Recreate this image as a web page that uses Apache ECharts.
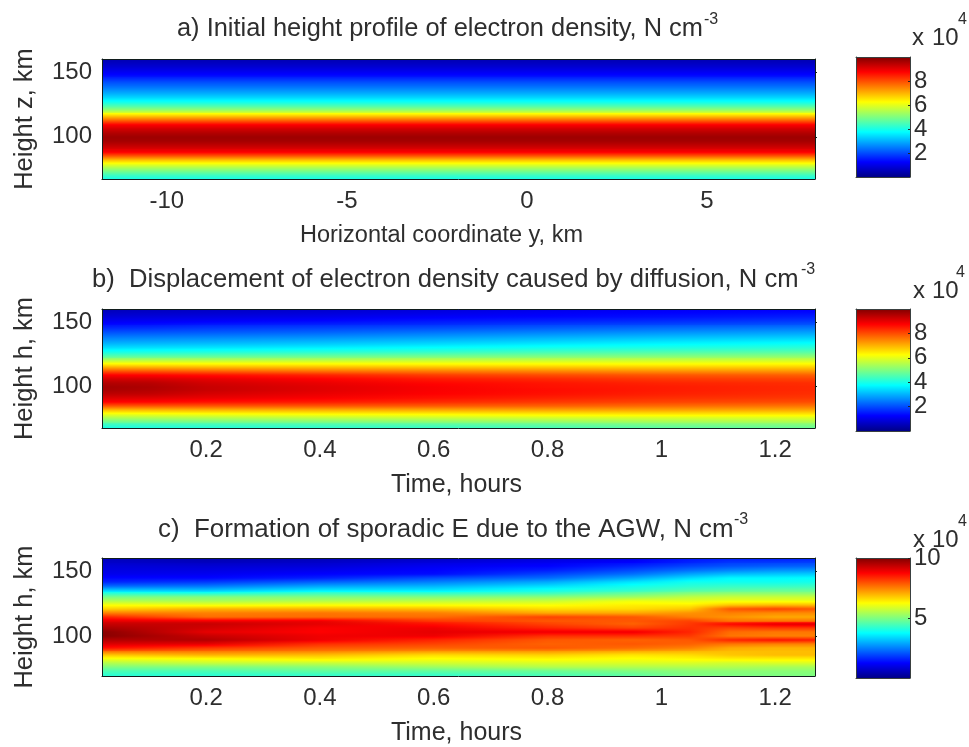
<!DOCTYPE html>
<html><head><meta charset="utf-8">
<script src="https://cdn.jsdelivr.net/npm/echarts@6/dist/echarts.min.js"></script>
<style>html,body{margin:0;padding:0;background:#fff}#c{width:969px;height:747px}</style>
</head><body><div id="c"></div>
<script>
// Heights of the data rows, km
const heights = [160,157,154,151,148,145,142,139,136,133,130,127,124,121,118,115,112,109,106,103,100,97,94,91,88,85,82,79,76,73,70,67];
// Panel a: initial profile, x 10^4 per cm^3
const profileA = [.45,.6,.8,1.05,1.3,1.6,2.0,2.3,2.65,3.0,3.4,3.9,4.5,5.2,6.1,7.0,7.9,8.8,9.2,9.5,9.7,9.65,9.4,9.1,8.8,7.9,6.9,6.1,5.4,4.8,4.25,3.9];
const coordA = [-11.8, 8.0];
// Panel b: profiles at successive times
const timesB = [0.017,0.1,0.2,0.4,0.6,0.8,1.0,1.27];
const b017 = [.5,.65,.85,1.1,1.35,1.65,2.0,2.35,2.7,3.05,3.45,3.95,4.55,5.25,6.1,7.0,7.9,8.75,9.2,9.5,9.65,9.6,9.4,9.1,8.75,7.9,6.9,6.1,5.4,4.8,4.25,3.9];
const b010 = [.55,.7,.9,1.15,1.4,1.7,2.05,2.4,2.75,3.1,3.5,4.0,4.6,5.3,6.1,6.95,7.85,8.7,9.15,9.45,9.55,9.5,9.35,9.05,8.7,7.9,6.95,6.15,5.45,4.85,4.3,3.95];
const b020 = [.6,.75,.95,1.2,1.5,1.8,2.1,2.45,2.8,3.15,3.55,4.05,4.65,5.3,6.1,6.9,7.75,8.6,9.0,9.2,9.3,9.3,9.15,8.95,8.6,7.9,7.0,6.2,5.5,4.9,4.35,4.0];
const b040 = [.7,.85,1.05,1.3,1.6,1.9,2.2,2.55,2.9,3.25,3.65,4.15,4.75,5.35,6.1,6.85,7.6,8.4,8.75,8.95,9.05,9.05,8.95,8.8,8.5,7.9,7.05,6.3,5.6,5.0,4.45,4.1];
const b060 = [.85,1.0,1.2,1.45,1.7,2.0,2.35,2.7,3.05,3.4,3.8,4.25,4.85,5.45,6.1,6.8,7.5,8.15,8.5,8.7,8.8,8.8,8.75,8.6,8.35,7.85,7.1,6.35,5.7,5.1,4.55,4.2];
const b080 = [1.0,1.15,1.3,1.55,1.85,2.15,2.5,2.85,3.2,3.55,3.95,4.4,4.95,5.5,6.1,6.75,7.4,8.0,8.35,8.55,8.6,8.65,8.6,8.45,8.2,7.8,7.15,6.45,5.8,5.2,4.7,4.35];
const b100 = [1.1,1.25,1.4,1.65,1.95,2.3,2.65,3.0,3.35,3.7,4.05,4.5,5.0,5.55,6.1,6.7,7.3,7.9,8.2,8.4,8.5,8.5,8.45,8.3,8.1,7.7,7.15,6.5,5.85,5.35,4.9,4.55];
const b127 = [1.2,1.35,1.55,1.8,2.1,2.45,2.8,3.15,3.5,3.85,4.2,4.6,5.1,5.6,6.15,6.7,7.25,7.8,8.1,8.3,8.35,8.35,8.3,8.2,8.0,7.6,7.1,6.5,5.9,5.45,5.0,4.7];
// Panel c: profiles at successive times
const timesC = [0.017,0.2,0.4,0.6,0.8,0.95,1.05,1.12,1.2,1.27];
const c017 = [.6,.7,.85,.95,1.05,1.3,1.6,2.25,3.2,4.1,4.9,5.5,6.2,6.7,7.5,8.4,9.0,9.3,9.6,9.9,9.9,9.5,9.1,8.6,7.7,6.8,6.1,5.5,5.0,4.5,4.2,4.0];
const c020 = [.45,.6,.8,.95,1.1,1.3,1.8,2.4,3.1,4.0,5.0,5.4,6.1,7.0,7.5,7.7,8.9,9.3,9.2,9.0,9.3,9.5,9.0,8.2,7.6,7.0,6.2,5.7,5.0,4.5,4.2,4.0];
const c040 = [.55,.7,.85,1.05,1.25,1.55,2.2,2.85,3.5,4.3,5.0,5.5,6.2,7.0,7.6,7.7,8.9,9.0,8.8,8.75,8.9,8.9,8.3,7.9,7.5,6.9,6.4,5.7,5.1,4.7,4.3,4.1];
const c060 = [.7,.9,1.1,1.25,1.35,2.0,2.5,3.0,3.5,4.2,5.0,5.6,6.2,6.9,7.5,7.7,8.2,8.6,8.9,9.0,8.9,8.4,8.1,7.8,7.3,6.6,6.2,5.8,5.3,4.7,4.3,4.1];
const c080 = [.9,1.1,1.25,1.5,1.9,2.3,2.9,3.4,3.9,4.3,5.1,5.7,6.2,6.6,7.1,8.1,7.9,8.1,8.4,8.9,8.3,7.9,7.8,7.9,7.3,6.7,6.3,5.9,5.5,4.8,4.5,4.3];
const c095 = [1.05,1.3,1.6,1.95,2.35,2.9,3.5,3.9,4.2,4.7,5.3,6.1,6.4,6.6,7.1,7.9,7.9,7.8,8.1,8.9,8.3,7.8,7.9,7.7,7.1,6.5,6.2,5.9,5.5,5.0,4.7,4.5];
const c105 = [1.45,1.6,1.9,2.3,2.85,3.4,3.9,4.15,4.5,5.0,5.6,6.0,6.4,6.8,7.3,7.5,8.1,8.2,8.3,8.4,8.2,7.9,7.8,7.5,7.0,6.6,6.3,5.9,5.5,5.1,5.0,4.8];
const c112 = [1.55,1.8,2.05,2.5,3.1,3.7,3.9,4.25,4.6,5.1,5.7,6.1,6.8,7.9,7.5,7.3,7.6,8.7,8.1,7.7,7.6,8.4,7.6,7.1,6.9,6.8,6.4,5.8,5.5,5.1,5.0,4.9];
const c120 = [1.55,1.85,2.15,2.65,3.2,3.7,3.9,4.25,4.7,5.1,5.7,6.1,6.9,8.1,7.4,7.1,7.6,9.0,8.2,7.6,7.5,8.6,7.5,7.0,6.9,6.9,6.4,5.9,5.4,5.1,5.0,4.9];
const c127 = [1.6,1.9,2.2,2.7,3.25,3.75,3.95,4.3,4.7,5.1,5.7,6.1,6.9,7.9,7.4,7.1,7.6,9.1,8.2,7.6,7.5,8.5,7.5,7.0,6.9,6.9,6.4,5.9,5.4,5.1,5.0,4.9];
// Tick labels
const ticksA = [-10,-5,0,5];
const ticksTime = [0.2,0.4,0.6,0.8,1,1.2];
const ticksHeight = [100,150];
const ticksBar = [2,4,6,8];
const ticksBarC = [5,10];
// Jet colour map
const jetPos = [0,0.125,0.375,0.625,0.875,1];
const jetRgb = [[0,0,135],[0,0,255],[0,255,255],[255,255,0],[255,0,0],[128,0,0]];

function jet(v){
  const t = Math.max(0,Math.min(1,v/10));
  let i = 0; while(i<jetPos.length-2 && t>jetPos[i+1]) i++;
  const f=(t-jetPos[i])/(jetPos[i+1]-jetPos[i]);
  const c=jetRgb[i].map((a,k)=>Math.round(a+(jetRgb[i+1][k]-a)*f));
  return `rgb(${c[0]},${c[1]},${c[2]})`;
}
const FONT='"Liberation Sans", Arial, sans-serif', TXT='#2e2e2e';
const tickFont=24, yNameFont=25.5;

const panels=[
 {top:59,h:120,xr:coordA,yr:[67.5,160],xs:coordA,cols:[profileA,profileA],xt:ticksA,xname:'Horizontal coordinate y, km',xnameFont:23.5,xnamePad:[0,34,0,0],yname:'Height z, km',
  title:'a) Initial height profile of electron density, N cm',titleFont:25.4,tx:177,ty:29,sx:704,sy:20,
  barTop:57,barH:120,bt:ticksBar,ex:[912,932,958],ey:[38,20]},
 {top:309,h:119,xr:[0.017,1.27],yr:[68,160],xs:timesB,cols:[b017,b010,b020,b040,b060,b080,b100,b127],xt:ticksTime,xname:'Time, hours',xnameFont:25,xnamePad:[0,4,0,0],yname:'Height h, km',
  title:'b)  Displacement of electron density caused by diffusion, N cm',titleFont:25.6,tx:92,ty:280,sx:801,sy:270,
  barTop:309,barH:122,bt:ticksBar,ex:[913,932,956],ey:[291,273]},
 {top:558,h:118,xr:[0.017,1.27],yr:[69,160.5],xs:timesC,cols:[c017,c020,c040,c060,c080,c095,c105,c112,c120,c127],xt:ticksTime,xname:'Time, hours',xnameFont:25,xnamePad:[0,4,0,0],yname:'Height h, km',
  title:'c)  Formation of sporadic E due to the AGW, N cm',titleFont:25.9,tx:158,ty:530,sx:734,sy:520,
  barTop:558,barH:120,bt:ticksBarC,ex:[913,932,958],ey:[540,522]}
];
const LINE={lineStyle:{color:'#101c1c',width:1}};
const grid=[],xAxis=[],yAxis=[],series=[],title=[];
function addTitle(text,left,cy,size){
  title.push({text,left,top:cy-size/2-1,padding:0,textStyle:{fontFamily:FONT,fontSize:size,fontWeight:'normal',color:TXT,lineHeight:size+2}});
}
panels.forEach((p,pi)=>{
  const gi=grid.length, xi=xAxis.length, yi=yAxis.length;
  grid.push({left:102,width:713,top:p.top,height:p.h,outerBoundsMode:'none'});
  xAxis.push({type:'value',gridIndex:gi,min:p.xr[0],max:p.xr[1],position:'bottom',z:10,splitLine:{show:false},
    axisLine:{show:true,onZero:false,...LINE},axisTick:{show:false,customValues:p.xt},
    axisLabel:{customValues:p.xt,fontFamily:FONT,fontSize:tickFont,color:TXT,margin:10,hideOverlap:false},
    name:p.xname,nameLocation:'middle',nameGap:45,nameTextStyle:{fontFamily:FONT,fontSize:p.xnameFont,color:TXT,padding:p.xnamePad}});
  xAxis.push({type:'value',gridIndex:gi,min:p.xr[0],max:p.xr[1],position:'top',z:10,splitLine:{show:false},
    axisLine:{show:true,onZero:false,...LINE},axisTick:{show:false},axisLabel:{show:false}});
  yAxis.push({type:'value',gridIndex:gi,min:p.yr[0],max:p.yr[1],position:'left',z:10,splitLine:{show:false},
    axisLine:{show:true,onZero:false,...LINE},axisTick:{show:false,customValues:ticksHeight},
    axisLabel:{customValues:ticksHeight,fontFamily:FONT,fontSize:tickFont,color:TXT,margin:10},
    name:p.yname,nameLocation:'middle',nameGap:64,nameRotate:90,nameTextStyle:{fontFamily:FONT,fontSize:yNameFont,color:TXT}});
  yAxis.push({type:'value',gridIndex:gi,min:p.yr[0],max:p.yr[1],position:'right',z:10,splitLine:{show:false},
    axisLine:{show:true,onZero:false,...LINE},axisTick:{show:true,length:2,customValues:ticksHeight,lineStyle:{color:'#101c1c'}},
    axisLabel:{show:false}});
  series.push({type:'custom',coordinateSystem:'cartesian2d',xAxisIndex:xi,yAxisIndex:yi,clip:true,silent:true,animation:false,z:2,
    data:heights.slice(0,-1).map((h,j)=>[p.xs[0],h]),
    encode:{x:0,y:1},
    renderItem:(params,api)=>{
      const j=params.dataIndex, n=p.xs.length, tmin=p.xs[0], tmax=p.xs[n-1];
      const x0=Math.round(api.coord([tmin,heights[j]])[0]), x1=Math.round(api.coord([tmax,heights[j]])[0]);
      const y0=api.coord([tmin,heights[j]])[1], y1=api.coord([tmin,heights[j+1]])[1];
      const sub=Math.max(1,Math.round(y1-y0)), kids=[];
      for(let k=0;k<sub;k++){
        const f=(k+0.5)/sub, ya=Math.round(y0+(y1-y0)*k/sub), yb=Math.round(y0+(y1-y0)*(k+1)/sub);
        if(yb<=ya) continue;
        const stops=p.xs.map((t,i)=>({offset:(t-tmin)/(tmax-tmin),color:jet(p.cols[i][j]*(1-f)+p.cols[i][j+1]*f)}));
        kids.push({type:'rect',shape:{x:x0,y:ya,width:x1-x0,height:yb-ya},
          style:{fill:{type:'linear',x:0,y:0,x2:1,y2:0,colorStops:stops}}});
      }
      return {type:'group',children:kids};
    }});
  addTitle(p.title,p.tx,p.ty,p.titleFont);
  addTitle('-3',p.sx,p.sy,16);

  // colour bar
  const gb=grid.length, xb=xAxis.length, yb=yAxis.length;
  grid.push({left:856,width:54,top:p.barTop,height:p.barH,outerBoundsMode:'none'});
  xAxis.push({type:'value',gridIndex:gb,min:0,max:1,position:'bottom',z:10,splitLine:{show:false},
    axisLine:{show:true,onZero:false,lineStyle:{color:'#3a4040',width:1}},axisTick:{show:false},axisLabel:{show:false}});
  xAxis.push({type:'value',gridIndex:gb,min:0,max:1,position:'top',z:10,splitLine:{show:false},
    axisLine:{show:true,onZero:false,lineStyle:{color:'#3a4040',width:1}},axisTick:{show:false},axisLabel:{show:false}});
  yAxis.push({type:'value',gridIndex:gb,min:0,max:10,position:'left',z:10,splitLine:{show:false},
    axisLine:{show:true,onZero:false,lineStyle:{color:'#3a4040',width:1}},axisTick:{show:false},axisLabel:{show:false}});
  yAxis.push({type:'value',gridIndex:gb,min:0,max:10,position:'right',z:10,splitLine:{show:false},
    axisLine:{show:true,onZero:false,lineStyle:{color:'#3a4040',width:1}},
    axisTick:{show:true,inside:true,length:2,customValues:p.bt,lineStyle:{color:'#222'}},
    axisLabel:{customValues:p.bt,fontFamily:FONT,fontSize:tickFont,color:TXT,margin:4}});
  series.push({type:'custom',coordinateSystem:'cartesian2d',xAxisIndex:xb,yAxisIndex:yb,clip:true,silent:true,animation:false,z:2,
    data:[[0,0,1,10]],encode:{x:[0,2],y:[1,3]},
    renderItem:(params,api)=>{
      const a=api.coord([api.value(0),api.value(3)]), b=api.coord([api.value(2),api.value(1)]);
      const stops=jetPos.map((q,i)=>({offset:1-q,color:`rgb(${jetRgb[i].join(',')})`})).reverse();
      return {type:'rect',shape:{x:a[0],y:a[1],width:b[0]-a[0],height:b[1]-a[1]},
        style:{fill:{type:'linear',x:0,y:0,x2:0,y2:1,colorStops:stops}}};
    }});
  addTitle('x',p.ex[0],p.ey[0],tickFont);
  addTitle('10',p.ex[1],p.ey[0],tickFont);
  addTitle('4',p.ex[2],p.ey[1],16);
});

const chart=echarts.init(document.getElementById('c'),null,{renderer:'canvas'});
chart.setOption({animation:false,backgroundColor:'#fff',title,grid,xAxis,yAxis,series,tooltip:{show:false}});
</script></body></html>
